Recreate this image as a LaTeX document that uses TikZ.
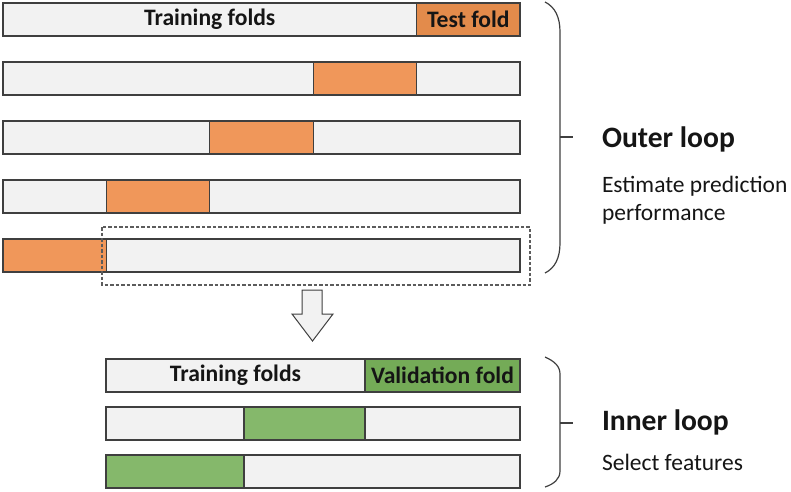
\documentclass[tikz,border=0pt]{standalone}
\usepackage{fontspec}
\setmainfont{Carlito}
\usetikzlibrary{positioning}
\definecolor{cvGray}{HTML}{F2F2F2}
\definecolor{cvEdge}{HTML}{3F3F3F}
\definecolor{cvInk}{HTML}{151515}
\definecolor{cvTestDark}{HTML}{E38B4B}
\definecolor{cvTest}{HTML}{F0975A}
\definecolor{cvValDark}{HTML}{74AB57}
\definecolor{cvVal}{HTML}{85B86B}

\begin{document}
\begin{tikzpicture}[
  x=1pt,y=-1pt,
  every node/.style={text=cvInk,outer sep=0pt},
  seg/.style={draw=cvEdge,line width=1.2pt,fill=cvGray,inner sep=0pt,minimum height=33pt,
    font=\bfseries\fontsize{23.6}{25}\selectfont},
  test/.style={fill=cvTest},
  val/.style={fill=cvVal},
  title/.style={anchor=base west,inner sep=0pt,font=\bfseries\fontsize{29.6}{32}\selectfont},
  note/.style={anchor=base west,inner sep=0pt,align=left,font=\fontsize{23.5}{28}\selectfont},
  brace/.style={draw=cvEdge,line width=1.2pt},
  blockarrow/.style={draw=cvEdge,line width=1pt,fill=cvGray,line join=miter}
]
\path[use as bounding box] (0,0) rectangle (791,491);
% outer folds
\node[seg,anchor=north west,minimum width=413.6pt] (o1a) at (3,3) {Training folds};
\node[seg,fill=cvTestDark,minimum width=103.4pt,right=0pt of o1a] (o1b) {Test fold};
\node[seg,anchor=north west,minimum width=310.2pt] (o2a) at (3,62) {};
\node[seg,test,minimum width=103.4pt,right=0pt of o2a] (o2b) {};
\node[seg,minimum width=103.4pt,right=0pt of o2b] (o2c) {};
\node[seg,anchor=north west,minimum width=206.8pt] (o3a) at (3,121) {};
\node[seg,test,minimum width=103.4pt,right=0pt of o3a] (o3b) {};
\node[seg,minimum width=206.8pt,right=0pt of o3b] (o3c) {};
\node[seg,anchor=north west,minimum width=103.4pt] (o4a) at (3,180) {};
\node[seg,test,minimum width=103.4pt,right=0pt of o4a] (o4b) {};
\node[seg,minimum width=310.2pt,right=0pt of o4b] (o4c) {};
\node[seg,test,anchor=north west,minimum width=103.4pt] (o5a) at (3,239) {};
\node[seg,minimum width=413.6pt,right=0pt of o5a] (o5b) {};
% selected training part
\draw[draw=cvEdge!85,line width=1.2pt,dash pattern=on 3.5pt off 2pt] (102,227) rectangle (530,285);
\draw[blockarrow] (302,290) -- (322,290) -- (322,314) -- (333,314) -- (312.5,341)
  -- (292,314) -- (302,314) -- cycle;
% inner folds
\node[seg,anchor=north west,minimum width=259pt] (i1a) at (106,359) {Training folds};
\node[seg,fill=cvValDark,minimum width=155pt,right=0pt of i1a] (i1b) {Validation fold};
\node[seg,anchor=north west,minimum width=138pt] (i2a) at (106,407) {};
\node[seg,val,minimum width=121pt,right=0pt of i2a] (i2b) {};
\node[seg,minimum width=155pt,right=0pt of i2b] (i2c) {};
\node[seg,val,anchor=north west,minimum width=138pt] (i3a) at (106,455) {};
\node[seg,minimum width=276pt,right=0pt of i3a] (i3b) {};
% braces
\draw[brace] (545,2) .. controls (555,7) and (560,17) .. (560,32) -- (560,243)
  .. controls (560,258) and (555,268) .. (545,273);
\draw[brace] (560,137) -- (573,137) coordinate (outertip);
\draw[brace] (545,357) .. controls (554,361) and (560,366) .. (560,374) -- (560,471)
  .. controls (560,479) and (554,484) .. (545,487);
\draw[brace] (560,423) -- (573,423) coordinate (innertip);
% labels
\node[title] (outer) at (602,147) {Outer loop};
\node[note] (outernote) at (602,220) {Estimate prediction\\performance};
\node[title] (inner) at (602,430) {Inner loop};
\node[note] (innernote) at (602,470) {Select features};
\end{tikzpicture}
\end{document}
